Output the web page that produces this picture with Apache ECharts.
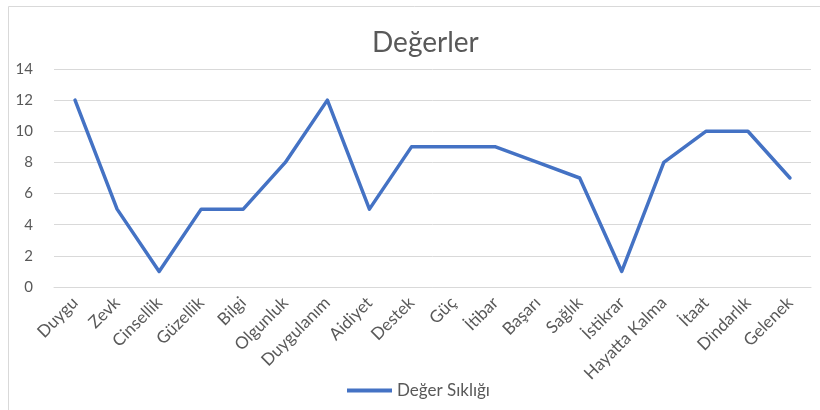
<!DOCTYPE html>
<html>
<head>
<meta charset="utf-8">
<script src="https://cdn.jsdelivr.net/npm/echarts@6/dist/echarts.min.js"></script>
<style>html,body{margin:0;padding:0;background:#fff}#c{width:820px;height:410px}</style>
</head>
<body>
<div id="c"></div>
<script>
var categories = ["Duygu","Zevk","Cinsellik","Güzellik","Bilgi","Olgunluk","Duygulanım","Aidiyet","Destek","Güç","İtibar","Başarı","Sağlık","İstikrar","Hayatta Kalma","İtaat","Dindarlık","Gelenek"];
var values = [12,5,1,5,5,8,12,5,9,9,9,8,7,1,8,10,10,7];
var seriesName = "Değer Sıklığı";
var titleText = "Değerler";

var chart = echarts.init(document.getElementById('c'), null, {renderer:'canvas'});
var font = 'Lato, "Open Sans", sans-serif';
chart.setOption({
  animation:false,
  backgroundColor:'#fff',
  graphic:[{type:'rect', shape:{x:8.5,y:6.5,width:830,height:430}, style:{fill:'none', stroke:'#d9d9d9', lineWidth:1}}],
  title:{text:titleText, left:367, top:24, textStyle:{fontFamily:font, fontSize:28, fontWeight:'normal', color:'#595959'}},
  legend:{bottom:6, left:342, itemWidth:45, itemHeight:4, icon:'rect', itemGap:8,
    textStyle:{fontFamily:font, fontSize:17, color:'#595959'}},
  grid:{left:54, right:9, top:69, bottom:123},
  xAxis:{type:'category', data:categories, boundaryGap:true,
    axisLine:{show:true, lineStyle:{color:'#d9d9d9', width:1}},
    axisTick:{show:false},
    axisLabel:{rotate:45, interval:0, margin:13, fontFamily:font, fontSize:17, color:'#595959'}},
  yAxis:{type:'value', min:0, max:14, interval:2,
    axisLine:{show:false}, axisTick:{show:false},
    splitLine:{lineStyle:{color:'#d9d9d9', width:1}},
    axisLabel:{margin:21, fontFamily:font, fontSize:15, color:'#595959'}},
  series:[{name:seriesName, type:'line', data:values, symbol:'none',
    lineStyle:{color:'#4472C4', width:3.5, cap:'round', join:'round'}, itemStyle:{color:'#4472C4'}}]
});
</script>
</body>
</html>
